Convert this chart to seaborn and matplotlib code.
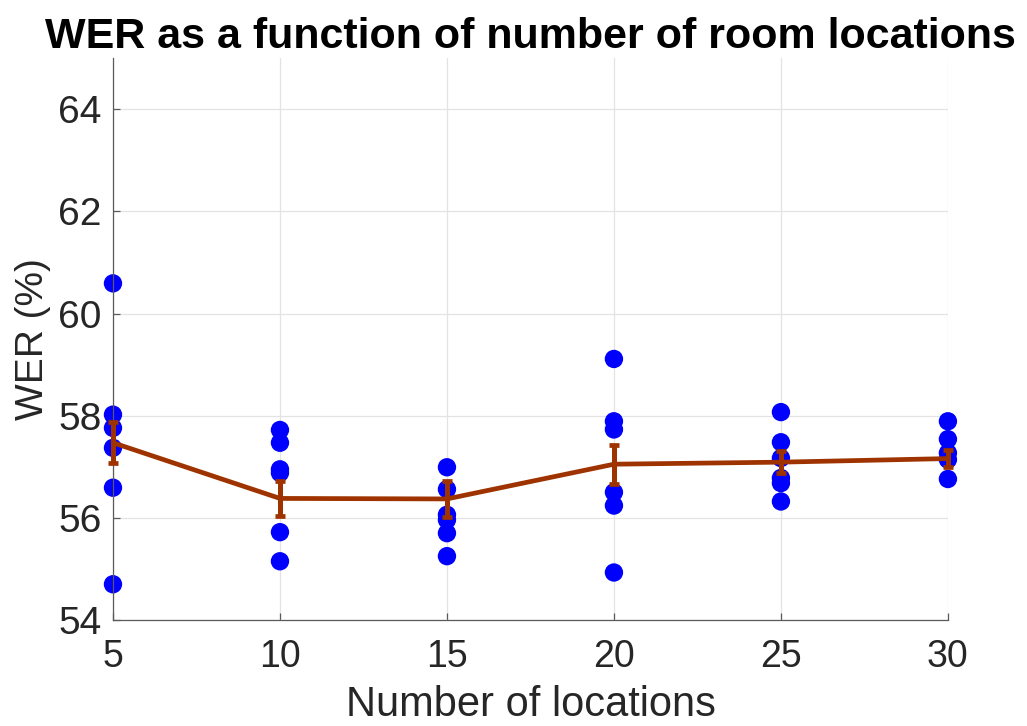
import matplotlib
matplotlib.use("Agg")
import matplotlib.pyplot as plt
import seaborn as sns
import pandas as pd

# Number of room locations used in training
locations = [5, 10, 15, 20, 25, 30]

# WER (%) of the individual runs for each number of locations
wer_5 = [60.59, 58.02, 57.76, 57.37, 56.59, 54.70]
wer_10 = [57.72, 57.47, 56.95, 56.88, 55.72, 55.15]
wer_15 = [56.99, 56.56, 56.06, 55.96, 55.70, 55.25]
wer_20 = [59.11, 57.89, 57.73, 56.50, 56.24, 54.93]
wer_25 = [58.07, 57.48, 57.17, 56.78, 56.68, 56.32]
wer_30 = [57.89, 57.54, 57.27, 57.14, 56.76]

# Mean WER and error-bar half widths
mean_wer = [57.47, 56.38, 56.37, 57.05, 57.09, 57.16]
err_wer = [0.40, 0.35, 0.35, 0.38, 0.21, 0.17]

runs = [wer_5, wer_10, wer_15, wer_20, wer_25, wer_30]
df = pd.DataFrame(
    [(n, w) for n, vals in zip(locations, runs) for w in vals],
    columns=["locations", "wer"],
)

sns.set_theme(style="white")
plt.rcParams["font.family"] = ["Liberation Sans", "DejaVu Sans"]

fig = plt.figure(figsize=(10.27, 7.26), dpi=100)
ax = fig.add_axes([0.110, 0.146, 0.813, 0.774])

sns.scatterplot(data=df, x="locations", y="wer", color="#0000FF", s=175,
                edgecolor="none", ax=ax, zorder=2, legend=False, clip_on=False)

line_color = "#9E3300"
ax.errorbar(locations, mean_wer, yerr=err_wer, color=line_color, lw=3.4,
            elinewidth=3.6, capsize=3.3, capthick=3.4, zorder=3, clip_on=False)

ax.set_xlim(5, 30)
ax.set_ylim(54, 65)
ax.set_xticks(locations)
ax.set_yticks([54, 56, 58, 60, 62, 64])

ax.grid(True, color="#E3E3E3", lw=0.9)
ax.set_axisbelow(True)
for side in ["top", "right"]:
    ax.spines[side].set_visible(False)
for side in ["left", "bottom"]:
    ax.spines[side].set_color("#5A5A5A")
    ax.spines[side].set_linewidth(0.9)

ax.tick_params(axis="both", direction="in", length=5, width=0.9,
               colors="#5A5A5A", labelcolor="#262626",
               left=True, bottom=True)
ax.tick_params(axis="x", labelsize=27, pad=14)
ax.tick_params(axis="y", labelsize=28, pad=8)

ax.set_xlabel("Number of locations", fontsize=30, color="#262626", labelpad=7)
ax.set_ylabel("WER (%)", fontsize=28, color="#262626", labelpad=5)
ax.set_title("WER as a function of number of room locations", fontsize=31,
             fontweight="bold", color="black", pad=7)

fig.savefig("out.png", dpi=100)
